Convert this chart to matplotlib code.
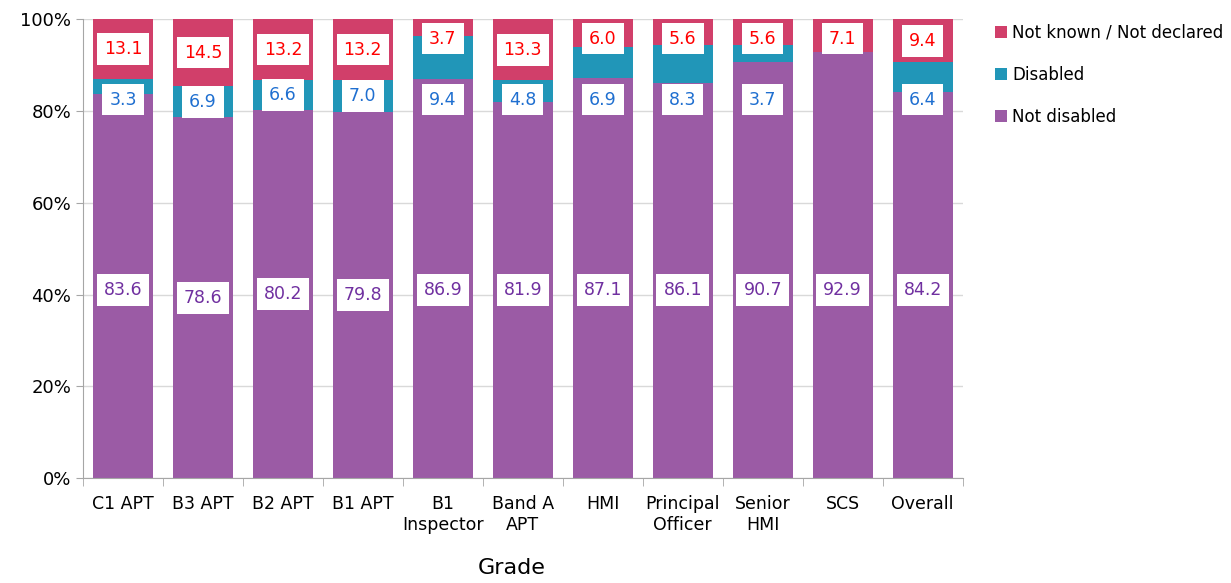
import matplotlib.pyplot as plt
import numpy as np

grades = ["C1 APT", "B3 APT", "B2 APT", "B1 APT", "B1\nInspector", "Band A\nAPT",
          "HMI", "Principal\nOfficer", "Senior\nHMI", "SCS", "Overall"]
not_disabled = [83.6, 78.6, 80.2, 79.8, 86.9, 81.9, 87.1, 86.1, 90.7, 92.9, 84.2]
disabled = [3.3, 6.9, 6.6, 7.0, 9.4, 4.8, 6.9, 8.3, 3.7, 0.0, 6.4]
not_known = [13.1, 14.5, 13.2, 13.2, 3.7, 13.3, 6.0, 5.6, 5.6, 7.1, 9.4]

# bar colours
PURPLE = "#9b5ba5"
TEAL = "#2196b8"
PINK = "#d13f6a"

plt.rcParams["font.family"] = ["DejaVu Sans"]

fig = plt.figure(figsize=(12.31, 5.83), dpi=100)
ax = fig.add_axes([0.0674, 0.180, 0.7146, 0.787])

x = np.arange(len(grades))
w = 0.75
nd = np.array(not_disabled)
di = np.array(disabled)
nk = np.array(not_known)

b1 = ax.bar(x, nd, w, color=PURPLE, label="Not disabled", zorder=2)
b2 = ax.bar(x, di, w, bottom=nd, color=TEAL, label="Disabled", zorder=2)
b3 = ax.bar(x, nk, w, bottom=nd + di, color=PINK, label="Not known / Not declared", zorder=2)

# excel-ish label placement: keep labels clear of the top edge and each other
box = dict(facecolor="white", edgecolor="none", pad=5)
for i in range(len(grades)):
    y_nd = min(nd[i] / 2, 41.0)
    ax.text(x[i], y_nd, "%.1f" % nd[i], ha="center", va="center",
            color="#7030a0", fontsize=12.5, bbox=box, zorder=3)
    if di[i] > 0:
        y_di = nd[i] + di[i] / 2
        if y_di > 84:
            y_di = 82.5
        ax.text(x[i], y_di, "%.1f" % di[i], ha="center", va="center",
                color="#1f6fd0", fontsize=12.5, bbox=box, zorder=3)
    y_nk = min(nd[i] + di[i] + nk[i] / 2, 95.8)
    ax.text(x[i], y_nk, "%.1f" % nk[i], ha="center", va="center",
            color="#ff0000", fontsize=12.5, bbox=box, zorder=3)

ax.set_xlim(-0.5, len(grades) - 0.5)
ax.set_ylim(0, 100)
ax.set_yticks(np.arange(0, 101, 20))
ax.set_yticklabels(["%d%%" % v for v in range(0, 101, 20)], fontsize=13)
ax.yaxis.grid(True, color="#d9d9d9", linewidth=1, zorder=0)

ax.set_xticks(x)
ax.set_xticklabels(grades, fontsize=12.5)
ax.tick_params(axis="x", length=0, pad=12)
ax.set_xticks(np.arange(-0.5, len(grades)), minor=True)
ax.tick_params(axis="x", which="minor", length=6, color="#a6a6a6")
ax.tick_params(axis="y", length=5, color="#a6a6a6")

for s in ["top", "right"]:
    ax.spines[s].set_visible(False)
ax.spines["left"].set_color("#a6a6a6")
ax.spines["bottom"].set_color("#a6a6a6")

ax.set_xlabel("Grade", fontsize=16)
ax.xaxis.set_label_coords(0.487, -0.175)

handles = [b3, b2, b1]
leg = fig.legend(handles, [h.get_label() for h in handles], loc="upper left",
                 bbox_to_anchor=(0.796, 0.985), frameon=False, fontsize=12,
                 handlelength=0.7, handleheight=0.7, handletextpad=0.35,
                 labelspacing=1.45)

fig.savefig("out.png", dpi=100)
